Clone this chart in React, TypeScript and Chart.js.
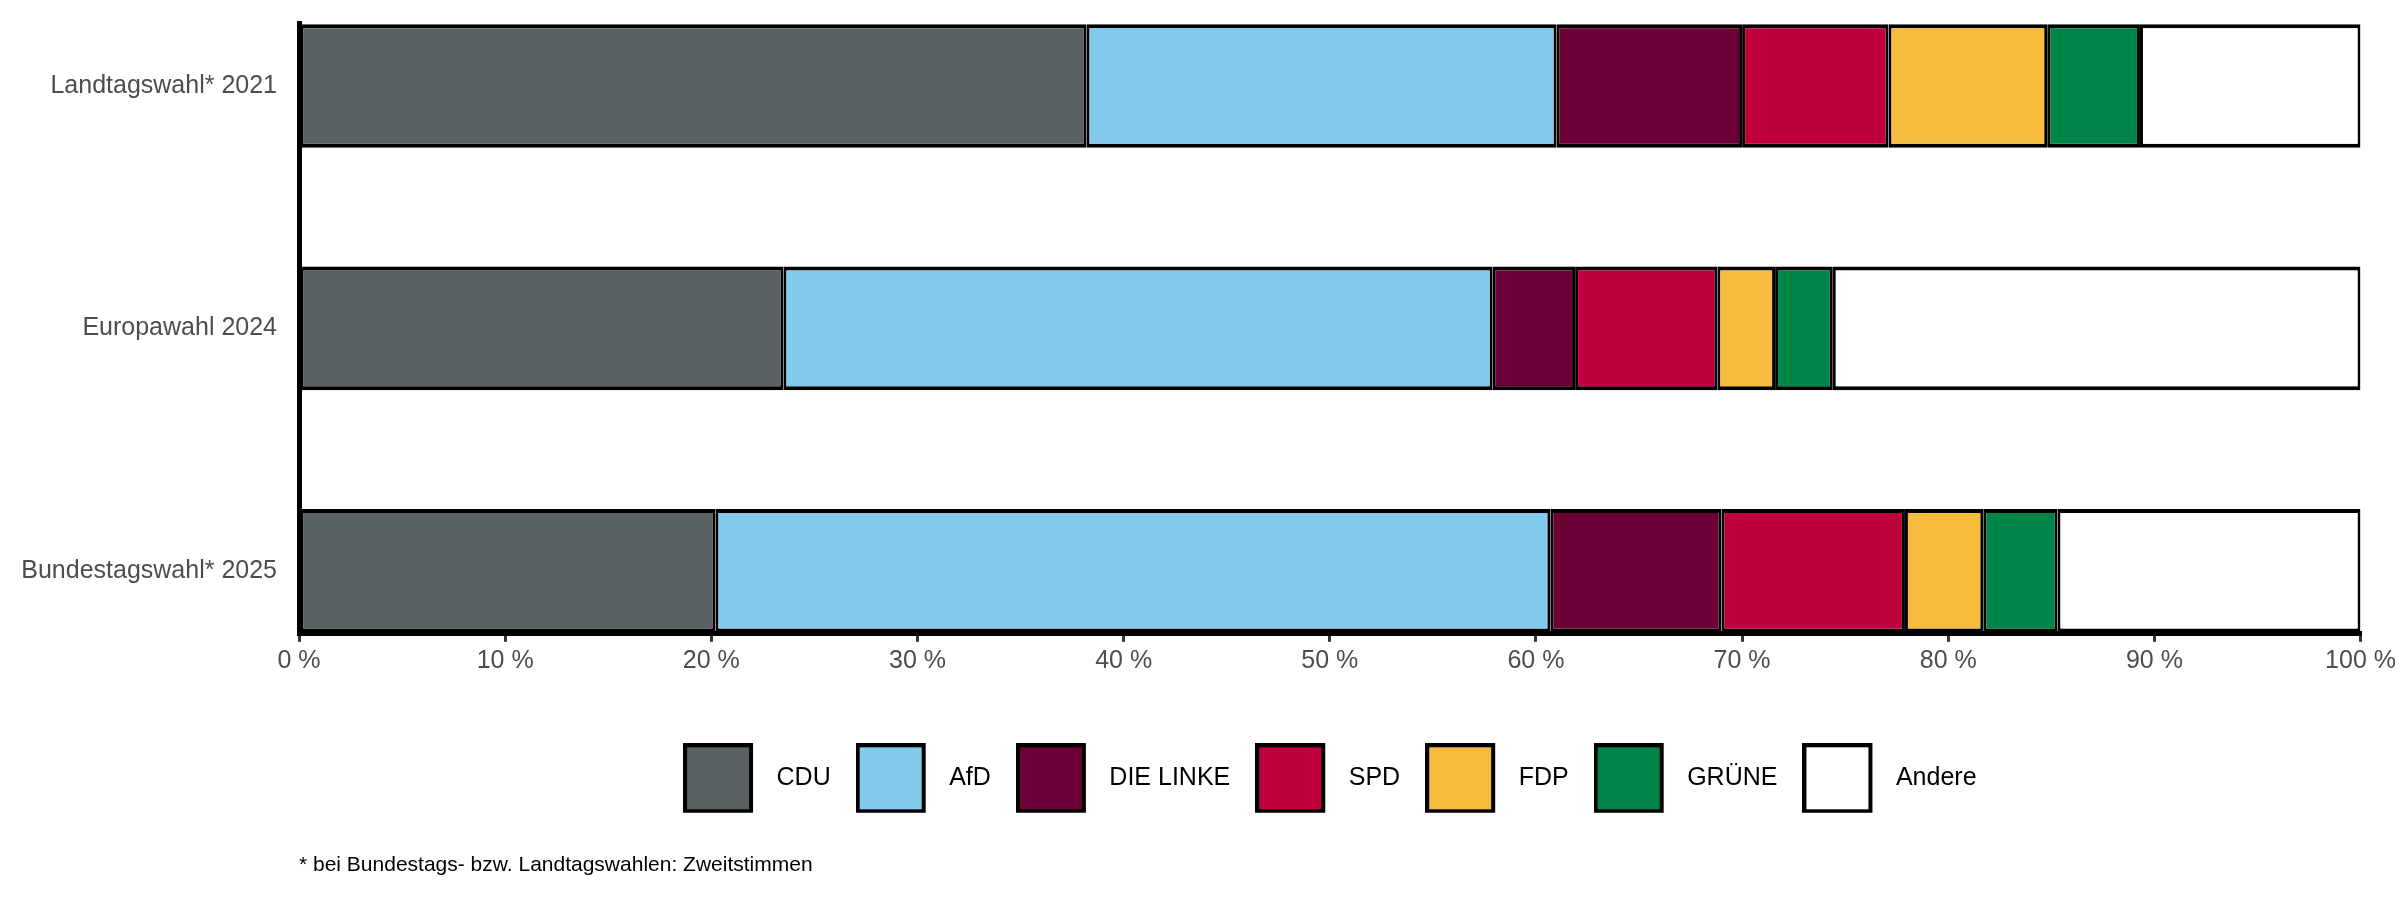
import React, { useEffect, useRef } from "react";
import { Chart, registerables } from "chart.js";

Chart.register(...registerables);

const categories = ["Landtagswahl* 2021", "Europawahl 2024", "Bundestagswahl* 2025"];
const parties = ["CDU", "AfD", "DIE LINKE", "SPD", "FDP", "GRÜNE", "Andere"];
const partyColors = ["#596163", "#82cbec", "#6e0038", "#c0003c", "#f7bb3d", "#008549", "#ffffff"];

const cduValues = [38.2, 23.5, 20.2];
const afdValues = [22.8, 34.4, 40.5];
const linkeValues = [9.0, 4.0, 8.3];
const spdValues = [7.1, 6.9, 8.9];
const fdpValues = [7.7, 2.8, 3.8];
const grueneValues = [4.5, 2.8, 3.6];
const andereValues = [10.7, 25.6, 14.7];

const xTicks = [0, 10, 20, 30, 40, 50, 60, 70, 80, 90, 100];
const footnote = "* bei Bundestags- bzw. Landtagswahlen: Zweitstimmen";

const seriesValues = [cduValues, afdValues, linkeValues, spdValues, fdpValues, grueneValues, andereValues];

const FONT = "'Liberation Sans', Arial, Helvetica, sans-serif";

function makeSwatch(color: string): HTMLCanvasElement {
  const c = document.createElement("canvas");
  c.width = 81;
  c.height = 70;
  const ctx = c.getContext("2d");
  if (ctx) {
    ctx.fillStyle = color;
    ctx.fillRect(2, 2, 66, 66);
    ctx.lineWidth = 4;
    ctx.strokeStyle = "#000000";
    ctx.strokeRect(2, 2, 66, 66);
  }
  return c;
}

const legendHeightPlugin = {
  id: "legendHeight",
  beforeInit(chart: any) {
    const legend = chart.legend;
    if (!legend) return;
    const origFit = legend.fit;
    legend.fit = function () {
      origFit.call(this);
      this.height += 12;
    };
  },
};

export default function App() {
  const canvasRef = useRef<HTMLCanvasElement | null>(null);

  useEffect(() => {
    document.body.style.margin = "0";
    const canvas = canvasRef.current;
    if (!canvas) return;

    const swatches = partyColors.map((c) => makeSwatch(c));

    const datasets = parties.map((p, i) => ({
      label: p,
      data: seriesValues[i].map((v, j) => ({ x: v, y: j })),
      backgroundColor: partyColors[i],
      borderColor: "#000000",
      borderWidth: { top: 4, bottom: 4, left: 3, right: 3 },
      borderSkipped: false as const,
      categoryPercentage: 1,
      barPercentage: 0.51,
    }));

    const chart = new Chart(canvas, {
      type: "bar",
      data: { datasets: datasets as any },
      plugins: [legendHeightPlugin],
      options: {
        indexAxis: "y",
        animation: false,
        responsive: false,
        devicePixelRatio: 1,
        events: [],
        layout: { padding: { top: 23, left: 0, right: 0, bottom: 0 } },
        scales: {
          x: {
            type: "linear",
            stacked: true,
            min: 0,
            max: 100,
            afterBuildTicks: (scale: any) => {
              scale.ticks = xTicks.map((v) => ({ value: v }));
            },
            afterFit: (scale: any) => {
              scale.height = 107;
            },
            ticks: {
              color: "#4d4d4d",
              font: { family: FONT, size: 25 },
              padding: 4,
              callback: (v: any) => `${v} %`,
            },
            grid: {
              display: true,
              drawOnChartArea: false,
              drawTicks: true,
              tickLength: 8,
              color: "#333333",
              lineWidth: 3,
            },
            border: { display: true, color: "#000000", width: 5 },
          },
          y: {
            type: "linear",
            stacked: true,
            reverse: true,
            offset: false,
            min: -0.26,
            max: 2.26,
            afterBuildTicks: (scale: any) => {
              scale.ticks = categories.map((_, i) => ({ value: i }));
            },
            afterFit: (scale: any) => {
              scale.width = 299;
              scale.paddingTop = 0;
              scale.paddingBottom = 0;
            },
            ticks: {
              color: "#4d4d4d",
              font: { family: FONT, size: 25 },
              padding: 22,
              callback: (v: any) => categories[Math.round(Number(v))] ?? "",
            },
            grid: { display: false, drawTicks: false, offset: false },
            border: { display: true, color: "#000000", width: 5 },
          },
        },
        plugins: {
          tooltip: { enabled: false },
          legend: {
            display: true,
            position: "bottom",
            fullSize: false,
            labels: {
              usePointStyle: true,
              pointStyleWidth: 81,
              padding: 25,
              color: "#000000",
              font: { family: FONT, size: 25 },
              generateLabels: (c: any) =>
                Chart.defaults.plugins.legend.labels
                  .generateLabels(c)
                  .map((l: any, i: number) => ({ ...l, pointStyle: swatches[i], lineWidth: 4, strokeStyle: "#000000" })),
            },
          },
          title: {
            display: true,
            position: "bottom",
            align: "start",
            fullSize: false,
            text: footnote,
            color: "#000000",
            font: { family: FONT, size: 21, weight: "normal" },
            padding: { top: 40, bottom: 22 },
          },
        },
      },
    });

    return () => chart.destroy();
  }, []);

  return (
    <div style={{ width: 2400, height: 900, background: "#ffffff" }}>
      <canvas ref={canvasRef} width={2400} height={900} style={{ display: "block" }} />
    </div>
  );
}
